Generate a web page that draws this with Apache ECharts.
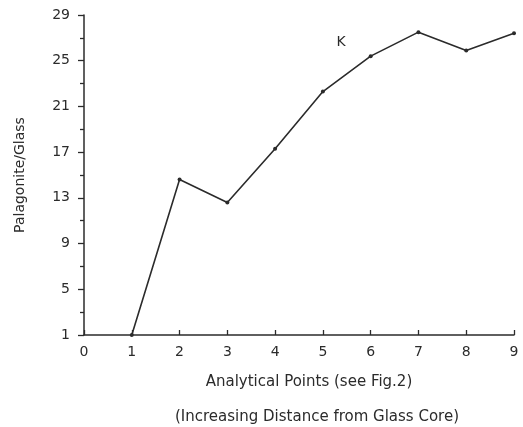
<!DOCTYPE html>
<html>
<head>
<meta charset="utf-8">
<script src="https://cdn.jsdelivr.net/npm/echarts@6/dist/echarts.min.js"></script>
<style>
  html, body { margin: 0; padding: 0; background: #fff; }
  #chart { width: 523px; height: 427px; }
</style>
</head>
<body>
<div id="chart"></div>
<script>
// data
const points = [1, 2, 3, 4, 5, 6, 7, 8, 9]
const ratio = [1, 14.6, 12.6, 17.3, 22.3, 25.4, 27.5, 25.9, 27.4]
const labelK = [5.38, 26.6]

const chart = echarts.init(document.getElementById('chart'))
const ink = '#2b2b2b'
const font = 'DejaVu Sans'

const option = {
  backgroundColor: '#fff',
  animation: false,
  grid: { left: 84, right: 9, top: 15, bottom: 92 },
  xAxis: {
    type: 'value', min: 0, max: 9, interval: 1,
    axisLine: { lineStyle: { color: ink, width: 1.5 } },
    axisTick: { inside: true, length: 5, lineStyle: { color: ink, width: 1.3 } },
    axisLabel: { color: ink, fontFamily: font, fontSize: 14, margin: 10 },
    splitLine: { show: false }
  },
  yAxis: {
    type: 'value', min: 1, max: 29, interval: 4,
    name: 'Palagonite/Glass', nameLocation: 'middle', nameGap: 57,
    nameTextStyle: { color: ink, fontFamily: font, fontSize: 14 },
    axisLine: { show: true, lineStyle: { color: ink, width: 1.5 } },
    axisTick: { show: true, length: 6, lineStyle: { color: ink, width: 1.3 } },
    minorTick: { show: true, splitNumber: 2, length: 4, lineStyle: { color: ink, width: 1.3 } },
    axisLabel: { color: ink, fontFamily: font, fontSize: 14, margin: 14 },
    splitLine: { show: false }
  },
  // two-line x axis title, centred where the original sits
  graphic: [
    { type: 'text', x: 309, y: 382, style: { text: 'Analytical Points (see Fig.2)', fill: ink, font: '15px "DejaVu Sans"', align: 'center', verticalAlign: 'middle' } },
    { type: 'text', x: 317, y: 417, style: { text: '(Increasing Distance from Glass Core)', fill: ink, font: '15px "DejaVu Sans"', align: 'center', verticalAlign: 'middle' } }
  ],
  series: [{
    type: 'line',
    data: points.map((p, i) => [p, ratio[i]]),
    symbol: 'circle', symbolSize: 4,
    itemStyle: { color: ink },
    lineStyle: { color: ink, width: 1.6 },
    markPoint: {
      symbol: 'circle', symbolSize: 0,
      label: { show: true, formatter: 'K', color: ink, fontFamily: font, fontSize: 14 },
      data: [{ coord: labelK }]
    }
  }]
}
chart.setOption(option)
</script>
</body>
</html>
